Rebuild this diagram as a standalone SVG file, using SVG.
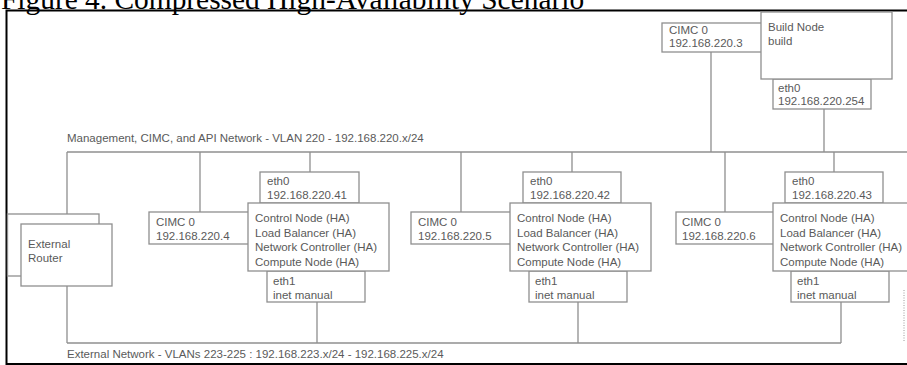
<svg xmlns="http://www.w3.org/2000/svg" width="907" height="365" viewBox="0 0 907 365">
<style>
.t{font-family:"Liberation Sans",Arial,sans-serif;font-size:11.5px;fill:#5a5a5a}
.b{fill:#fff;stroke:#8f8f8f;stroke-width:1.3}
.l{fill:none;stroke:#8f8f8f;stroke-width:1.3}
.title{font-family:"Liberation Serif","Times New Roman",serif;font-size:29.4px;fill:#000}
</style>
<rect width="907" height="365" fill="#fff"/>
<text class="title" x="1" y="9">Figure 4. Compressed High-Availability Scenario</text>
<path d="M6.5 365V10.5H907M6.5 364H907" fill="none" stroke="#000" stroke-width="2"/>

<g id="connectors">
<path class="l" d="M67 152H907"/>
<path class="l" d="M67 343H841"/>
<path class="l" d="M711 52V152M824 109V152"/>
<path class="l" d="M67 152V224M200 152V212M310 152V172M461 152V212M572 152V172M725 152V212M834 152V172"/>
<path class="l" d="M67 286V343M317 302V343M578 302V343M841 302V343"/>
<path d="M904 290V342" stroke="#9a9a9a" stroke-width="1" stroke-dasharray="1 1.5"/>
</g>

<text class="t" x="67" y="142">Management, CIMC, and API Network - VLAN 220 - 192.168.220.x/24</text>
<text class="t" x="67" y="358">External Network - VLANs 223-225 : 192.168.223.x/24 - 192.168.225.x/24</text>

<g id="cimc-build">
<rect class="b" x="662" y="23" width="100" height="29"/>
<text class="t" x="669" y="34">CIMC 0</text>
<text class="t" x="669" y="47">192.168.220.3</text>
</g>
<g id="build-eth0">
<rect class="b" x="773" y="79" width="98" height="30"/>
<text class="t" x="778" y="92">eth0</text>
<text class="t" x="778" y="105">192.168.220.254</text>
</g>
<g id="build-node">
<rect class="b" x="761" y="12" width="131" height="67"/>
<text class="t" x="768" y="31">Build Node</text>
<text class="t" x="768" y="45">build</text>
</g>

<g id="external-router">
<rect class="b" x="7.5" y="214" width="91.5" height="62"/>
<rect class="b" x="21" y="224" width="91" height="62"/>
<text class="t" x="28" y="248">External</text>
<text class="t" x="28" y="262">Router</text>
</g>

<g id="cimc-4">
<rect class="b" x="149" y="212" width="100" height="32"/>
<text class="t" x="156" y="226">CIMC 0</text>
<text class="t" x="156" y="240">192.168.220.4</text>
</g>
<g id="eth0-41">
<rect class="b" x="260" y="172" width="99" height="31"/>
<text class="t" x="267" y="185">eth0</text>
<text class="t" x="267" y="199">192.168.220.41</text>
</g>
<g id="eth1-41">
<rect class="b" x="267" y="271" width="98" height="31"/>
<text class="t" x="273" y="285">eth1</text>
<text class="t" x="273" y="299">inet manual</text>
</g>
<g id="node-41">
<rect class="b" x="248" y="203" width="141" height="68"/>
<text class="t" x="255" y="222">Control Node (HA)</text>
<text class="t" x="255" y="236.5">Load Balancer (HA)</text>
<text class="t" x="255" y="251">Network Controller (HA)</text>
<text class="t" x="255" y="265.5">Compute Node (HA)</text>
</g>

<g id="cimc-5">
<rect class="b" x="411" y="212" width="100" height="32"/>
<text class="t" x="418" y="226">CIMC 0</text>
<text class="t" x="418" y="240">192.168.220.5</text>
</g>
<g id="eth0-42">
<rect class="b" x="523" y="172" width="98" height="31"/>
<text class="t" x="530" y="185">eth0</text>
<text class="t" x="530" y="199">192.168.220.42</text>
</g>
<g id="eth1-42">
<rect class="b" x="529" y="271" width="98" height="31"/>
<text class="t" x="535" y="285">eth1</text>
<text class="t" x="535" y="299">inet manual</text>
</g>
<g id="node-42">
<rect class="b" x="510" y="203" width="141" height="68"/>
<text class="t" x="517" y="222">Control Node (HA)</text>
<text class="t" x="517" y="236.5">Load Balancer (HA)</text>
<text class="t" x="517" y="251">Network Controller (HA)</text>
<text class="t" x="517" y="265.5">Compute Node (HA)</text>
</g>

<g id="cimc-6">
<rect class="b" x="676" y="212" width="98" height="32"/>
<text class="t" x="682" y="226">CIMC 0</text>
<text class="t" x="682" y="240">192.168.220.6</text>
</g>
<g id="eth0-43">
<rect class="b" x="785" y="172" width="98" height="31"/>
<text class="t" x="792" y="185">eth0</text>
<text class="t" x="792" y="199">192.168.220.43</text>
</g>
<g id="eth1-43">
<rect class="b" x="791" y="271" width="98" height="31"/>
<text class="t" x="797" y="285">eth1</text>
<text class="t" x="797" y="299">inet manual</text>
</g>
<g id="node-43">
<rect class="b" x="773" y="203" width="141" height="68"/>
<text class="t" x="780" y="222">Control Node (HA)</text>
<text class="t" x="780" y="236.5">Load Balancer (HA)</text>
<text class="t" x="780" y="251">Network Controller (HA)</text>
<text class="t" x="780" y="265.5">Compute Node (HA)</text>
</g>
</svg>
